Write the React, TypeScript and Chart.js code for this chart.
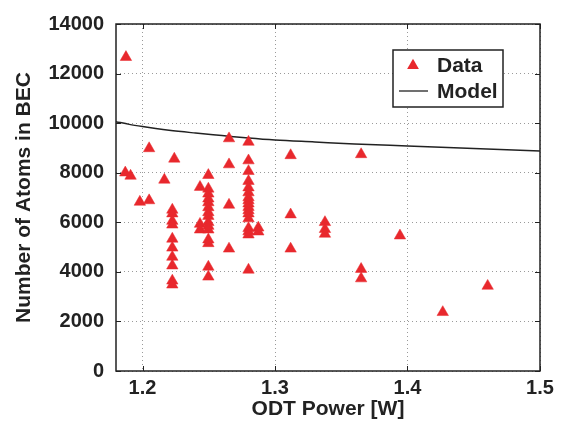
import { useEffect, useRef } from 'react';
import { Chart, registerables } from 'chart.js';

Chart.register(...registerables);

// Measured data (ODT power in W, atom number)
const powerW = [
  1.1875, 1.187, 1.191, 1.198, 1.205, 1.205, 1.2165, 1.224,
  1.2225, 1.2225, 1.2225, 1.2225, 1.2225, 1.2225, 1.2225, 1.2225, 1.2225, 1.2225,
  1.2434, 1.2434, 1.2434,
  1.2497, 1.2497, 1.2497, 1.2497, 1.2497, 1.2497, 1.2497, 1.2497, 1.2497, 1.2497, 1.2497, 1.2497, 1.2497, 1.2497, 1.2497,
  1.2653, 1.2653, 1.2653, 1.2653,
  1.28, 1.28, 1.28, 1.28, 1.28, 1.28, 1.28, 1.28, 1.28, 1.28, 1.28, 1.28, 1.28, 1.28, 1.28, 1.28, 1.28,
  1.2874, 1.2874,
  1.3118, 1.3118, 1.3118,
  1.3377, 1.3377, 1.3377,
  1.365, 1.365, 1.365,
  1.3943, 1.4266, 1.4605,
];
const atomsN = [
  12660, 8000, 7870, 6820, 6880, 8980, 7710, 8560,
  6500, 6350, 6050, 5900, 5330, 4970, 4600, 4250, 3640, 3480,
  7420, 5930, 5700,
  7900, 7350, 7150, 6950, 6800, 6600, 6400, 6250, 6000, 5850, 5700, 5300, 5150, 4200, 3800,
  9380, 8330, 6700, 4930,
  9240, 8490, 8060, 7660, 7400, 7200, 7000, 6880, 6750, 6610, 6480, 6350, 6150, 5760, 5630, 5500, 4080,
  5780, 5620,
  8700, 6310, 4930,
  6000, 5720, 5530,
  8740, 4110, 3730,
  5460, 2370, 3430,
];

// Model curve
const modelPowerW = [1.18, 1.19, 1.2, 1.21, 1.22, 1.24, 1.26, 1.28, 1.3, 1.33, 1.36, 1.4, 1.45, 1.5];
const modelAtomsN = [10060, 9950, 9860, 9780, 9710, 9600, 9500, 9400, 9320, 9240, 9160, 9080, 8980, 8880];

const xTickValues = [1.2, 1.3, 1.4, 1.5];
const xTickLabels = ['1.2', '1.3', '1.4', '1.5'];
const yTickValues = [0, 2000, 4000, 6000, 8000, 10000, 12000, 14000];
const yTickLabels = ['0', '2000', '4000', '6000', '8000', '10000', '12000', '14000'];
const seriesLabels = ['Data', 'Model'];
const xAxisTitle = 'ODT Power [W]';
const yAxisTitle = 'Number of Atoms in BEC';

const FAMILY = '"Liberation Sans", Arial, Helvetica, sans-serif';
const TEXT = '#222222';
const RED = '#E8282D';

const boxPlugin = {
  id: 'boxAndLegend',
  afterDraw(chart: any) {
    const { ctx, chartArea } = chart;
    const { left, top, right, bottom } = chartArea;
    const xs = chart.scales.x;
    const ys = chart.scales.y;
    ctx.save();
    ctx.strokeStyle = TEXT;
    ctx.lineWidth = 1;
    ctx.setLineDash([]);
    const tl = 5;
    ctx.beginPath();
    xTickValues.forEach((v) => {
      const px = Math.round(xs.getPixelForValue(v)) + 0.5;
      ctx.moveTo(px, bottom);
      ctx.lineTo(px, bottom - tl);
      ctx.moveTo(px, top);
      ctx.lineTo(px, top + tl);
    });
    yTickValues.forEach((v) => {
      const py = Math.round(ys.getPixelForValue(v)) + 0.5;
      ctx.moveTo(left, py);
      ctx.lineTo(left + tl, py);
      ctx.moveTo(right, py);
      ctx.lineTo(right - tl, py);
    });
    ctx.stroke();
    ctx.lineWidth = 1.5;
    ctx.strokeRect(left, top, right - left, bottom - top);

    // legend
    const bx = right - 147;
    const by = top + 26;
    const bw = 110;
    const bh = 57;
    ctx.fillStyle = '#ffffff';
    ctx.fillRect(bx, by, bw, bh);
    ctx.lineWidth = 1.5;
    ctx.strokeStyle = TEXT;
    ctx.strokeRect(bx, by, bw, bh);

    // triangle marker
    const mx = bx + 20;
    const my = by + 15.5;
    const r = 6.8;
    ctx.fillStyle = RED;
    ctx.beginPath();
    ctx.moveTo(mx, my - r);
    ctx.lineTo(mx + r * 0.866, my + r / 2);
    ctx.lineTo(mx - r * 0.866, my + r / 2);
    ctx.closePath();
    ctx.fill();

    // model line sample
    ctx.strokeStyle = TEXT;
    ctx.lineWidth = 1.3;
    ctx.beginPath();
    ctx.moveTo(bx + 6, by + 41);
    ctx.lineTo(bx + 35, by + 41);
    ctx.stroke();

    ctx.fillStyle = TEXT;
    ctx.font = `bold 21px ${FAMILY}`;
    ctx.textBaseline = 'middle';
    ctx.textAlign = 'left';
    ctx.fillText(seriesLabels[0], bx + 44, by + 16);
    ctx.fillText(seriesLabels[1], bx + 44, by + 42);
    ctx.restore();
  },
};

export default function App() {
  const ref = useRef<HTMLCanvasElement>(null);
  useEffect(() => {
    if (!ref.current) return;
    const chart = new Chart(ref.current, {
      type: 'scatter',
      data: {
        datasets: [
          {
            label: seriesLabels[0],
            data: powerW.map((x, i) => ({ x, y: atomsN[i] })),
            pointStyle: 'triangle',
            pointRadius: 6.6,
            pointBackgroundColor: RED,
            pointBorderColor: RED,
            pointBorderWidth: 0.5,
            showLine: false,
          },
          {
            label: seriesLabels[1],
            data: modelPowerW.map((x, i) => ({ x, y: modelAtomsN[i] })),
            showLine: true,
            pointRadius: 0,
            borderColor: TEXT,
            borderWidth: 1.5,
            tension: 0.4,
            cubicInterpolationMode: 'monotone',
          },
        ],
      },
      options: {
        animation: false,
        responsive: false,
        devicePixelRatio: 1,
        layout: { padding: { top: 16, right: 22, left: 0, bottom: 0 } },
        plugins: {
          legend: { display: false },
          tooltip: { enabled: false },
        },
        scales: {
          x: {
            type: 'linear',
            min: 1.18,
            max: 1.5,
            afterBuildTicks: (scale: any) => {
              scale.ticks = xTickValues.map((v) => ({ value: v }));
            },
            afterFit: (scale: any) => {
              scale.height = 53;
            },
            ticks: {
              autoSkip: false,
              maxRotation: 0,
              padding: 5,
              color: TEXT,
              font: { family: FAMILY, size: 20, weight: 'bold' },
              callback: (_v: any, i: number) => xTickLabels[i],
            },
            grid: {
              drawTicks: false,
              color: '#9a9a9a',
              lineWidth: 1,
            },
            border: { display: false, dash: [1, 3] },
            title: {
              display: true,
              text: xAxisTitle,
              color: TEXT,
              font: { family: FAMILY, size: 21, weight: 'bold' },
              padding: { top: 0, bottom: 2 },
            },
          },
          y: {
            type: 'linear',
            min: 0,
            max: 14000,
            afterBuildTicks: (scale: any) => {
              scale.ticks = yTickValues.map((v) => ({ value: v }));
            },
            afterFit: (scale: any) => {
              scale.width = 116;
            },
            ticks: {
              autoSkip: false,
              padding: 12,
              color: TEXT,
              font: { family: FAMILY, size: 20, weight: 'bold' },
              callback: (_v: any, i: number) => yTickLabels[i],
            },
            grid: {
              drawTicks: false,
              color: '#9a9a9a',
              lineWidth: 1,
            },
            border: { display: false, dash: [1, 3] },
            title: {
              display: true,
              text: yAxisTitle,
              color: TEXT,
              font: { family: FAMILY, size: 21, weight: 'bold' },
              padding: { top: 12, bottom: 0 },
            },
          },
        },
      },
      plugins: [boxPlugin],
    } as any);
    return () => chart.destroy();
  }, []);
  return (
    <div style={{ position: 'absolute', left: 0, top: 0, width: 562, height: 424, background: '#fff' }}>
      <canvas ref={ref} width={562} height={424} style={{ width: 562, height: 424, display: 'block' }} />
    </div>
  );
}
